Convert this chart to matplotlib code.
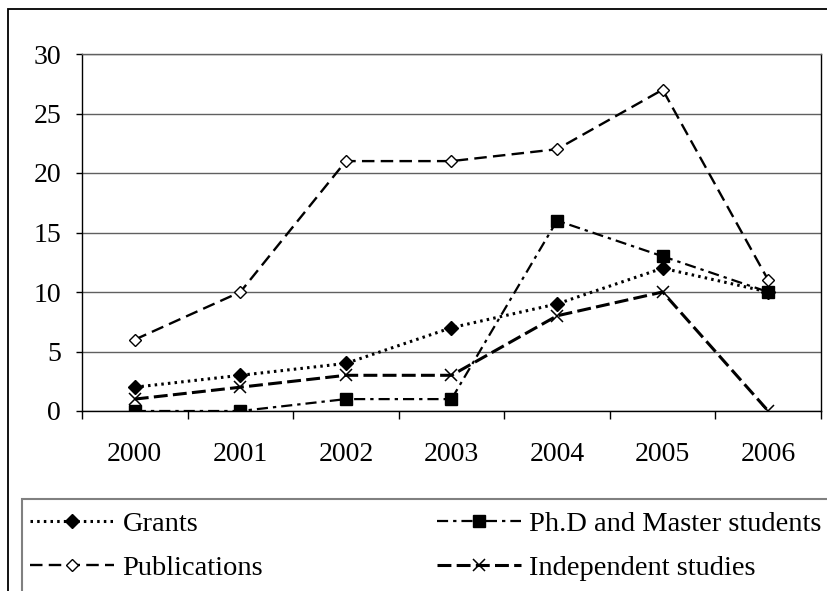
import numpy as np
import matplotlib
matplotlib.use("Agg")
from matplotlib import pyplot as plt
from matplotlib.patches import Rectangle

years = ["2000", "2001", "2002", "2003", "2004", "2005", "2006"]
grants = [2, 3, 4, 7, 9, 12, 10]
students = [0, 0, 1, 1, 16, 13, 10]
publications = [6, 10, 21, 21, 22, 27, 11]
independent = [1, 2, 3, 3, 8, 10, 0]
y_ticks = [0, 5, 10, 15, 20, 25, 30]

plt.rcParams["font.family"] = ["Liberation Serif", "DejaVu Serif"]
plt.rcParams["lines.scale_dashes"] = False

W, H = 828, 591
fig = plt.figure(figsize=(W / 100, H / 100), dpi=100)

# plot area in pixel coordinates
left, right, top, bottom = 82, 821, 54, 411
ax = fig.add_axes([left / W, 1 - bottom / H, (right - left) / W, (bottom - top) / H])

x = np.arange(len(years))
l_grants, = ax.plot(x, grants, color="black", lw=2.2, dashes=(1.8, 3.0),
                    marker="D", ms=6.8, mfc="black", mec="black", label="Grants")
l_students, = ax.plot(x, students, color="black", lw=1.6, dashes=(8.0, 3.6, 2.4, 3.6),
                      marker="s", ms=8.5, mfc="black", mec="black",
                      label="Ph.D and Master students")
l_pub, = ax.plot(x, publications, color="black", lw=1.7, dashes=(9.0, 4.5),
                 marker="D", ms=6.5, mfc="white", mec="black", mew=1.0,
                 label="Publications")
l_ind, = ax.plot(x, independent, color="black", lw=2.2, dashes=(10.0, 3.8),
                 marker="x", ms=9, mec="black", mew=1.1,
                 label="Independent studies")

ax.set_xlim(-0.5, len(years) - 0.5)
ax.set_ylim(0, 30)
ax.set_yticks(y_ticks)
ax.set_yticklabels([str(v) for v in y_ticks], fontsize=20)
ax.set_xticks(x)
ax.set_xticklabels(years, fontsize=20)
ax.set_xticks(np.arange(-0.5, len(years), 1.0), minor=True)
ax.tick_params(axis="x", which="major", length=0, pad=22)
ax.tick_params(axis="x", which="minor", direction="out", length=6, width=1)
ax.tick_params(axis="y", direction="out", length=4, width=1, pad=11)

ax.grid(axis="y", color="#606060", lw=1)
ax.set_axisbelow(True)
for side in ["left", "bottom", "right"]:
    ax.spines[side].set_color("black")
    ax.spines[side].set_linewidth(1)
ax.spines["top"].set_color("#606060")
ax.spines["top"].set_linewidth(1)

# outer chart frame and legend box, both running off the image edge
fig.patches.append(Rectangle((8 / W, -0.1), 1.2, 1 - 9 / H + 0.1, transform=fig.transFigure,
                             fill=False, edgecolor="black", lw=1.3))
fig.patches.append(Rectangle((22 / W, -0.1), 1.2, 1 - 499 / H + 0.1, transform=fig.transFigure,
                             fill=False, edgecolor="#808080", lw=1.5))

fig.legend([l_grants, l_pub, l_students, l_ind],
           ["Grants", "Publications", "Ph.D and Master students", "Independent studies"],
           loc="upper left", bbox_to_anchor=(30 / W, 1 - 511 / H), ncol=2,
           frameon=False, fontsize=20.5, handlelength=2.95, handletextpad=0.3,
           columnspacing=6.1, labelspacing=0.64, borderaxespad=0, borderpad=0)

fig.savefig("out.png", dpi=100)
